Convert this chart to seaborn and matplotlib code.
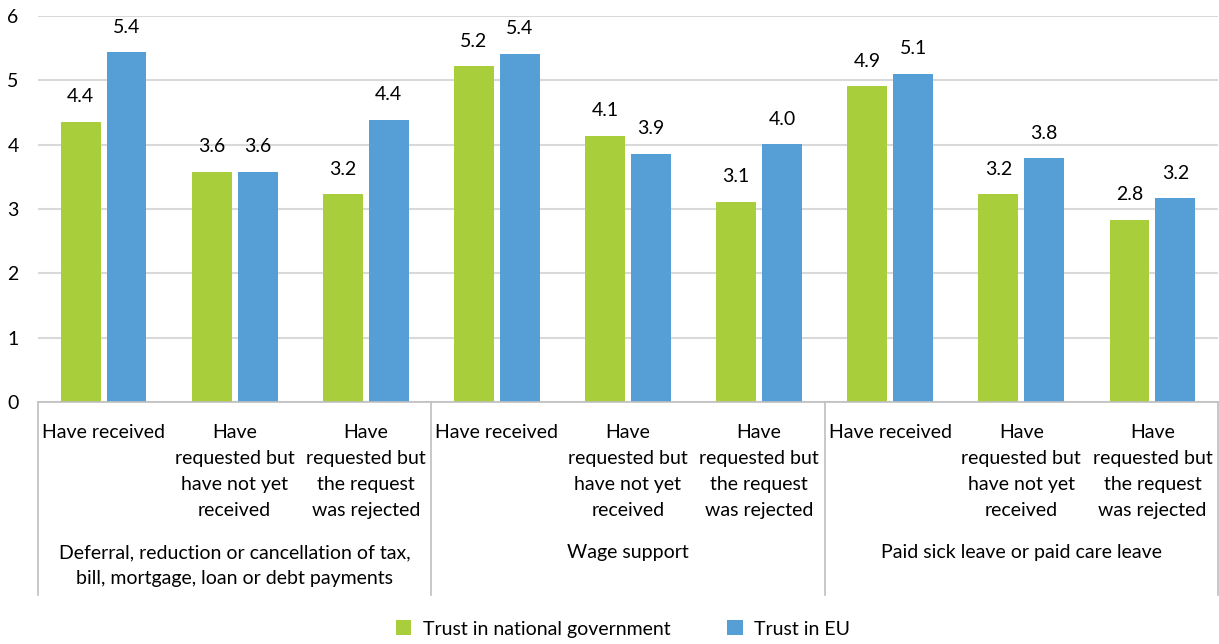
import matplotlib
matplotlib.use("Agg")
import matplotlib.pyplot as plt
import matplotlib.transforms as mtransforms
import seaborn as sns
import pandas as pd

# Support measures (groups) and request status (categories within each group)
groups = [
    "Deferral, reduction or cancellation of tax,\nbill, mortgage, loan or debt payments",
    "Wage support",
    "Paid sick leave or paid care leave",
]
statuses = [
    "Have received",
    "Have\nrequested but\nhave not yet\nreceived",
    "Have\nrequested but\nthe request\nwas rejected",
]
series = ["Trust in national government", "Trust in EU"]

# Mean trust scores, in order: group 1 (3 statuses), group 2, group 3
trust_national = [4.36, 3.58, 3.23, 5.22, 4.14, 3.11, 4.91, 3.23, 2.83]
trust_eu = [5.44, 3.58, 4.39, 5.41, 3.86, 4.01, 5.10, 3.79, 3.17]

colors = ["#A8CE3B", "#559FD6"]

plt.rcParams["font.family"] = ["Lato", "DejaVu Sans"]
FS = 14

keys = [f"{g}|{s}" for g in range(len(groups)) for s in range(len(statuses))]
tick_labels = [statuses[s] for g in range(len(groups)) for s in range(len(statuses))]

df = pd.DataFrame({
    "key": keys * 2,
    "series": [series[0]] * len(keys) + [series[1]] * len(keys),
    "value": trust_national + trust_eu,
})

fig = plt.figure(figsize=(12.19, 6.44), dpi=100)
W, H = 1219, 644
ax = fig.add_axes([38 / W, 1 - 402 / H, (1218 - 38) / W, (402 - 16) / H])

sns.barplot(data=df, x="key", y="value", hue="series", order=keys,
            hue_order=series, palette=colors, width=0.70, gap=0.13,
            saturation=1, ax=ax, legend=True)

ax.set_xlim(-0.5, len(keys) - 0.5)
ax.set_ylim(0, 6)
ax.set_yticks(range(0, 7))
ax.set_xlabel("")
ax.set_ylabel("")

# Grid and spines
ax.grid(axis="y", color="#D9D9D9", linewidth=1.5)
ax.set_axisbelow(True)
for side in ["top", "right", "left"]:
    ax.spines[side].set_visible(False)
ax.spines["bottom"].set_color("#BFBFBF")
ax.spines["bottom"].set_linewidth(1.2)

ax.tick_params(axis="y", length=0, pad=14, labelsize=FS, labelcolor="#000000")
ax.tick_params(axis="x", length=0, pad=16, labelsize=FS, labelcolor="#000000")
ax.set_xticks(range(len(keys)))
ax.set_xticklabels(tick_labels, linespacing=1.63, va="top")
for lbl in ax.get_yticklabels():
    lbl.set_horizontalalignment("right")

# Value labels above each bar
for container in ax.containers:
    for bar in container:
        h = bar.get_height()
        ax.annotate(f"{h:.1f}", (bar.get_x() + bar.get_width() / 2, h),
                    xytext=(0, 18), textcoords="offset points",
                    ha="center", va="center", fontsize=FS)

# Group separators and group labels below the category labels
trans = mtransforms.blended_transform_factory(ax.transData, ax.transAxes)
n_s = len(statuses)
sep_bottom = -(595 - 402) / (402 - 16)
for b in range(len(groups) + 1):
    x = b * n_s - 0.5
    ax.plot([x, x], [0, sep_bottom], transform=trans, color="#BFBFBF",
            linewidth=1.2, clip_on=False)
for g, name in enumerate(groups):
    ax.text(g * n_s + (n_s - 1) / 2, -(544 - 402) / (402 - 16), name,
            transform=trans, ha="center", va="top", fontsize=FS,
            linespacing=1.65)

# Legend below the chart
handles, labels = ax.get_legend_handles_labels()
ax.get_legend().remove()
fig.legend(handles, labels, loc="center", bbox_to_anchor=(623 / W, 1 - 629 / H),
           ncol=2, frameon=False, fontsize=FS, handlelength=0.8,
           handleheight=0.8, handletextpad=0.6, columnspacing=2.9)

fig.savefig("out.png", dpi=100)
